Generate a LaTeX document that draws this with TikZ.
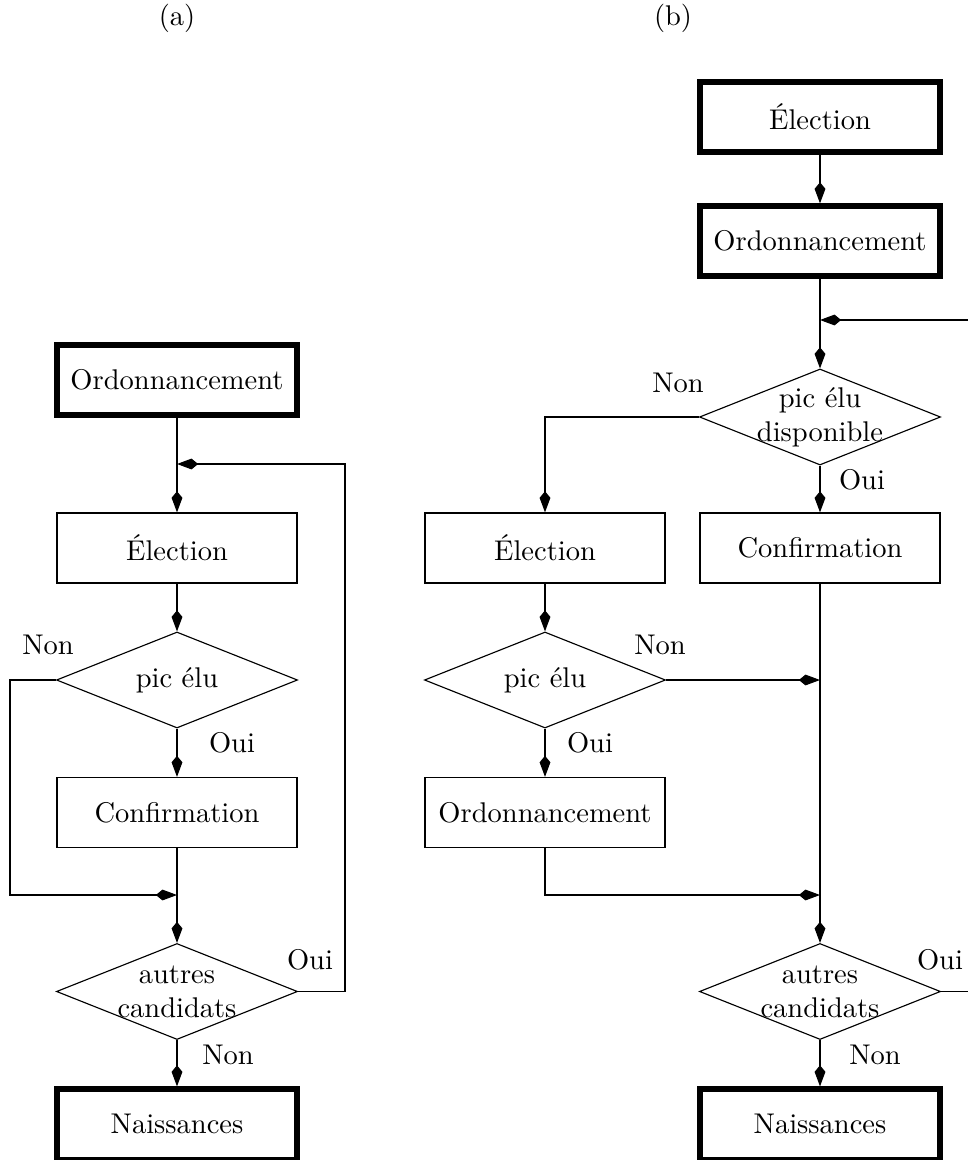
\documentclass[tikz,border=0pt]{standalone}
\usetikzlibrary{shapes.geometric, arrows.meta, positioning, calc}
\tikzset{
    block/.style={rectangle, draw, minimum width=84.2pt, minimum height=24.6pt, inner sep=0pt, align=center},
    mainblock/.style={block, line width=1.8pt},
    decision/.style={diamond, draw, minimum width=84.6pt, minimum height=33.7pt, inner sep=0pt},
    arrow/.style={-{Kite[length=7.4pt, width=3.8pt, inset=2.3pt]}},
    answer/.style={inner sep=0pt},
}

\begin{document}
\begin{tikzpicture}[x=0.3509pt, y=-0.3509pt]
    \useasboundingbox (0,0) rectangle (967,1160);
    % (a)
    \node (ta) at (177,18) {(a)};
    \node[mainblock] (ordoa) at (177,380) {Ordonnancement};
    \node[block] (eleca) at (177,548) {\'Election};
    \node[decision] (pica) at (177,680) {};
    \node (pica-t) at (pica) {pic \'elu};
    \node[block] (confa) at (177,812.5) {Confirmation};
    \node[decision] (autra) at (177,991.5) {};
    \node[align=center] (autra-t) at (autra) {autres\\candidats};
    \node[mainblock] (naisa) at (177,1124) {Naissances};
    \coordinate (a-ret) at (345,464);
    \coordinate (a-in) at (177,464);
    \coordinate (a-skip) at (10,895);
    \coordinate (a-join) at (177,895);
    \draw[arrow] (ordoa) -- (eleca);
    \draw[arrow] (eleca) -- (pica);
    \draw[arrow] (pica) -- (confa);
    \draw[arrow] (confa) -- (autra);
    \draw[arrow] (autra) -- (naisa);
    \draw[arrow] (autra.east) -| (a-ret) -- (a-in);
    \draw[arrow] (pica.west) -| (a-skip) -- (a-join);
    \node[answer] (a-non1) at (48,645) {Non};
    \node[answer] (a-oui1) at (232,743) {Oui};
    \node[answer] (a-oui2) at (310,960) {Oui};
    \node[answer] (a-non2) at (228,1055) {Non};
    % (b)
    \node (tb) at (673,18) {(b)};
    \node[mainblock] (elecb) at (820,117) {\'Election};
    \node[mainblock] (ordob) at (820,241) {Ordonnancement};
    \node[decision] (picb) at (820,417) {};
    \node[align=center] (picb-t) at (picb) {pic \'elu\\disponible};
    \node[block] (elecb2) at (545,548) {\'Election};
    \node[block] (confb) at (820,548) {Confirmation};
    \node[decision] (picb2) at (545,680) {};
    \node (picb2-t) at (picb2) {pic \'elu};
    \node[block] (ordob2) at (545,812.5) {Ordonnancement};
    \node[decision] (autrb) at (820,991.5) {};
    \node[align=center] (autrb-t) at (autrb) {autres\\candidats};
    \node[mainblock] (naisb) at (820,1124) {Naissances};
    \coordinate (b-ret) at (995,320);
    \coordinate (b-in) at (820,320);
    \coordinate (b-join1) at (820,680);
    \coordinate (b-join2) at (820,895);
    \draw[arrow] (elecb) -- (ordob);
    \draw[arrow] (ordob) -- (picb);
    \draw[arrow] (picb.west) -| (elecb2.north);
    \draw[arrow] (picb) -- (confb);
    \draw[arrow] (elecb2) -- (picb2);
    \draw[arrow] (picb2.east) -- (b-join1);
    \draw[arrow] (picb2) -- (ordob2);
    \draw[arrow] (ordob2.south) |- (b-join2);
    \draw[arrow] (confb) -- (autrb);
    \draw[arrow] (autrb) -- (naisb);
    \draw[arrow] (autrb.east) -| (b-ret) -- (b-in);
    \node[answer] (b-non1) at (678,383) {Non};
    \node[answer] (b-oui1) at (862,480) {Oui};
    \node[answer] (b-non2) at (660,645) {Non};
    \node[answer] (b-oui2) at (590,743) {Oui};
    \node[answer] (b-oui3) at (940,960) {Oui};
    \node[answer] (b-non3) at (875,1055) {Non};
\end{tikzpicture}
\end{document}
